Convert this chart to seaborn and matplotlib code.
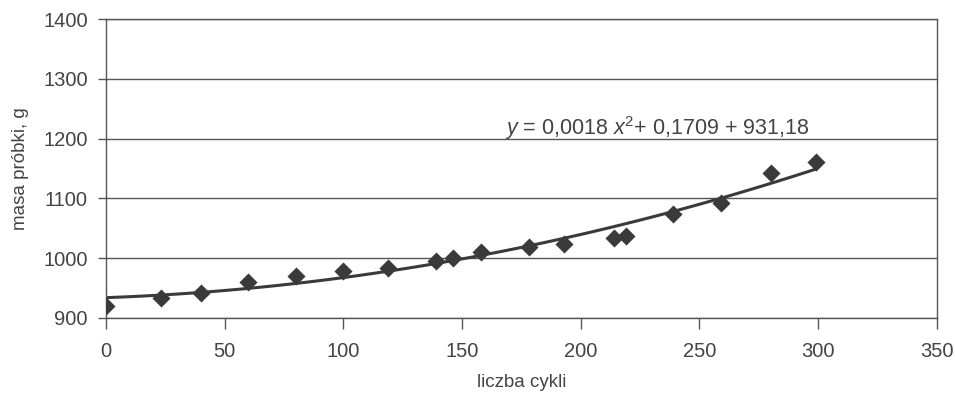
# masa próbki vs liczba cykli z trendem wielomianowym 2 stopnia
import seaborn as sns
import pandas as pd
import matplotlib.pyplot as plt

# dane
cykle = [0, 23, 40, 60, 80, 100, 119, 139, 146, 158, 178, 193, 214, 219, 239, 259, 280, 299]
masa = [920, 933, 942, 960, 970, 979, 983, 996, 1001, 1011, 1019, 1024, 1033, 1037, 1074, 1092, 1143, 1161]
x_ticks = [0, 50, 100, 150, 200, 250, 300, 350]
y_ticks = [900, 1000, 1100, 1200, 1300, 1400]

df = pd.DataFrame({'cykle': cykle, 'masa': masa})

sns.set_theme(style='white')
plt.rcParams['font.family'] = ['Liberation Sans', 'DejaVu Sans']
plt.rcParams['mathtext.fontset'] = 'custom'
plt.rcParams['mathtext.it'] = 'Liberation Sans:italic'
plt.rcParams['mathtext.rm'] = 'Liberation Sans'

kolor = '#3a3a3a'
tekst = '#444444'

fig = plt.figure(figsize=(9.55, 3.97), dpi=100)
ax = fig.add_axes([0.111, 0.199, 0.870, 0.753])

# linia trendu (wielomian 2 stopnia)
sns.regplot(data=df, x='cykle', y='masa', order=2, ci=None, scatter=False, ax=ax,
            line_kws={'color': kolor, 'linewidth': 2.2, 'zorder': 2})
# punkty pomiarowe
sns.scatterplot(data=df, x='cykle', y='masa', marker='D', s=85, color=kolor,
                edgecolor=kolor, linewidth=0, ax=ax, zorder=3)

ax.set_xlim(0, 350)
ax.set_ylim(900, 1400)
ax.set_xticks(x_ticks)
ax.set_yticks(y_ticks)
ax.yaxis.grid(True, color='#555555', linewidth=1.0)
ax.xaxis.grid(False)
ax.set_axisbelow(True)

for s in ['left', 'bottom', 'right', 'top']:
    ax.spines[s].set_visible(True)
    ax.spines[s].set_color('#555555')
    ax.spines[s].set_linewidth(1.0)

ax.tick_params(axis='x', direction='out', length=8, width=1, color='#555555',
               labelsize=14.5, labelcolor=tekst, pad=9, bottom=True)
ax.tick_params(axis='y', direction='out', length=6, width=1, color='#555555',
               labelsize=14.5, labelcolor=tekst, pad=7, left=True)

ax.set_xlabel('liczba cykli', fontsize=13.5, color=tekst, labelpad=10)
ax.set_ylabel('masa próbki, g', fontsize=13.5, color=tekst, labelpad=10)

ax.text(168, 1206, r'$y$ = 0,0018 $x^2$+ 0,1709 + 931,18', fontsize=15.5, color=tekst, va='baseline')

plt.savefig('out.png', dpi=100)
